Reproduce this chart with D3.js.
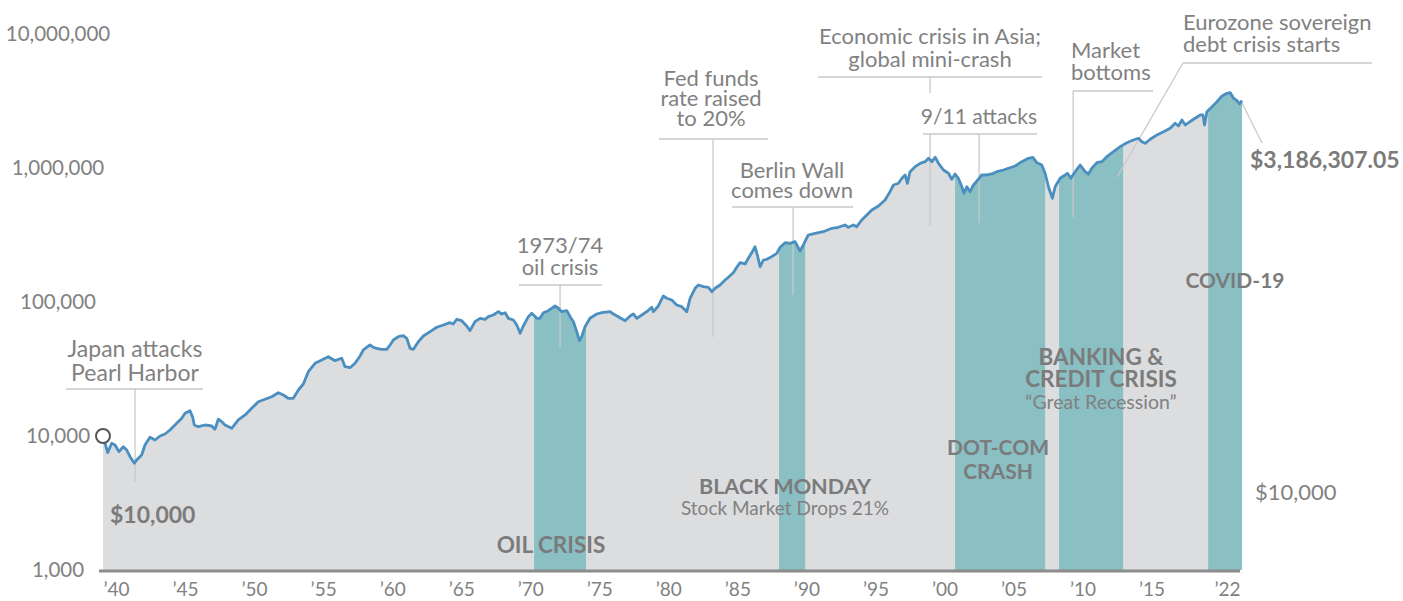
<!DOCTYPE html>
<html>
<head>
<meta charset="utf-8">
<script src="https://cdn.jsdelivr.net/npm/d3@7"></script>
<style>
  body { margin: 0; background: #fff; }
  svg { display: block; }
  text { font-family: Lato, "Noto Sans", sans-serif; }
</style>
</head>
<body>
<svg id="chart" width="1403" height="601"></svg>
<script>
// growth of $10,000 (decimal year, dollars)
const years = [
  1940.42, 1940.76, 1941.05, 1941.29, 1941.58, 1941.89, 1942.14, 1942.38, 1942.69, 1942.86,
  1943.22, 1943.46, 1943.82, 1944.19, 1944.55, 1944.91, 1945.27, 1945.63, 1946.12, 1946.36,
  1946.72, 1946.92, 1947.03, 1947.32, 1947.81, 1948.29, 1948.53, 1948.77, 1949.02, 1949.26,
  1949.74, 1950.22, 1950.71, 1951.19, 1951.67, 1952.15, 1952.64, 1953.12, 1953.48, 1953.84,
  1954.20, 1954.57, 1954.93, 1955.29, 1955.78, 1956.26, 1956.74, 1957.22, 1957.71, 1957.95,
  1958.31, 1958.67, 1959.04, 1959.27, 1959.76, 1960.00, 1960.24, 1960.61, 1960.97, 1961.21,
  1961.45, 1961.81, 1962.17, 1962.42, 1962.66, 1962.90, 1963.26, 1963.62, 1964.11, 1964.59,
  1965.07, 1965.55, 1965.79, 1966.04, 1966.40, 1966.76, 1967.00, 1967.36, 1967.73, 1968.09,
  1968.33, 1968.69, 1969.05, 1969.30, 1969.54, 1969.78, 1970.14, 1970.39, 1970.63, 1970.86,
  1971.23, 1971.47, 1971.84, 1972.07, 1972.31, 1972.67, 1973.16, 1973.40, 1973.64, 1974.01,
  1974.25, 1974.49, 1974.73, 1974.92, 1975.09, 1975.33, 1975.69, 1976.18, 1976.54, 1977.14,
  1977.38, 1977.74, 1978.23, 1978.59, 1978.83, 1979.08, 1979.44, 1979.80, 1980.16, 1980.28,
  1980.64, 1981.00, 1981.25, 1981.61, 1981.97, 1982.34, 1982.70, 1982.94, 1983.30, 1983.54,
  1983.90, 1984.26, 1984.51, 1984.75, 1985.11, 1985.47, 1985.71, 1986.07, 1986.32, 1986.56,
  1986.92, 1987.16, 1987.52, 1987.64, 1987.81, 1988.01, 1988.25, 1988.49, 1988.85, 1989.22,
  1989.46, 1989.82, 1990.18, 1990.54, 1990.90, 1991.14,
  1991.50, 1991.99, 1992.59, 1993.20, 1993.68, 1994.16, 1994.40, 1994.77, 1995.01, 1995.37,
  1995.74, 1996.10, 1996.58, 1997.06, 1997.42, 1997.67, 1998.03, 1998.28, 1998.51, 1998.68,
  1998.87, 1999.24, 1999.60, 1999.96, 2000.20, 2000.45, 2000.69, 2000.93, 2001.29, 2001.65,
  2001.89, 2002.13, 2002.37, 2002.62, 2002.78, 2002.98, 2003.22, 2003.46, 2003.82, 2004.06,
  2004.43, 2004.79, 2005.15, 2005.63, 2005.99, 2006.48, 2006.96, 2007.44, 2007.76, 2008.05,
  2008.41, 2008.65, 2008.89, 2009.18, 2009.38, 2009.74, 2010.10, 2010.27, 2010.51, 2010.83,
  2011.19, 2011.55, 2011.79, 2012.03, 2012.40, 2012.76, 2013.12, 2013.60, 2014.09, 2014.57,
  2015.05, 2015.41, 2015.66, 2015.90, 2016.26, 2016.75, 2017.23, 2017.71, 2018.07, 2018.31,
  2018.56, 2018.80, 2019.04, 2019.40, 2019.89, 2020.08, 2020.20, 2020.37, 2020.74, 2021.10,
  2021.46, 2021.82, 2022.06, 2022.30, 2022.55, 2022.73, 2022.91
];
const values = [
  10000, 7510, 8820, 8570, 7640, 8320, 7860, 7010, 6260, 6620,
  7210, 8570, 9780, 9340, 10000, 10350, 11090, 12080, 13560, 14770,
  15450, 13790, 12080, 11730, 12080, 11880, 11220, 13330, 12790, 12080,
  11420, 13170, 14350, 16100, 18030, 18790, 19650, 21050, 20230, 19120,
  19120, 22040, 24440, 30190, 34880, 36920, 39070, 36480, 38010, 32900,
  32350, 34880, 39550, 43840, 47780, 45920, 45130, 44370, 44370, 47780,
  52050, 55100, 56060, 53610, 45130, 44370, 50570, 55770, 60040, 64770,
  67370, 70080, 68540, 74300, 72530, 66220, 61090, 71290, 75570, 74300,
  77700, 80000, 84680, 81380, 83220, 75570, 73410, 67370, 58410, 66220,
  77700, 82360, 75570, 75570, 83220, 86130, 93370, 89780, 84680, 86130,
  77700, 71290, 60040, 51450, 55100, 65420, 75570, 81380, 83220, 84680,
  81380, 77700, 72530, 78630, 81380, 75570, 80000, 84680, 91320, 84680,
  93370, 110900, 106600, 103500, 95000, 92260, 84680, 106600, 126600, 134000,
  130100, 128800, 119400, 126600, 134000, 146000, 152900, 165500, 181600, 196600,
  192200, 212000, 244400, 258700, 224200, 183400, 205800, 208300, 217800, 230900,
  256000, 277100, 274200, 281900, 240300, 266400,
  316300, 325700, 334700, 354900, 361100, 375600, 361100, 375600, 364800, 409300,
  446100, 486100, 520600, 577000, 666000, 746900, 769100, 838100, 887000, 769100,
  938900, 1023000, 1084000, 1115000, 1182000, 1115000, 1202000, 1084000, 966500, 913300,
  823800, 902300, 838100, 725400, 647600, 725400, 666000, 746900, 823800, 887000,
  887000, 902300, 938900, 966500, 995200, 1035000, 1115000, 1182000, 1202000, 1096000,
  1053000, 913300, 725400, 594200, 725400, 838100, 887000, 913300, 838100, 938900,
  1053000, 938900, 902300, 995200, 1096000, 1115000, 1215000, 1324000, 1443000, 1545000,
  1619000, 1667000, 1572000, 1529000, 1638000, 1764000, 1866000, 1978000, 2157000, 2059000,
  2283000, 2095000, 2179000, 2310000, 2488000, 2488000, 2095000, 2633000, 2869000, 3126000,
  3448000, 3611000, 3648000, 3314000, 3180000, 3005000, 3186307.05
];

// shaded crisis periods
const bandStart = [1971.64, 1989.38, 2002.13, 2009.66, 2020.46];
const bandEnd   = [1975.40, 1991.27, 2008.65, 2014.30, 2022.91];

const tickYears  = [1940, 1945, 1950, 1955, 1960, 1965, 1970, 1975, 1980, 1985, 1990, 1995, 2000, 2005, 2010, 2015, 2022];
const tickLabels = ["’40", "’45", "’50", "’55", "’60", "’65", "’70", "’75", "’80", "’85", "’90", "’95", "’00", "’05", "’10", "’15", "’22"];
const yTicks = [1000, 10000, 100000, 1000000, 10000000];

const data = d3.zip(years, values).map(([t, v]) => ({t, v}));

const svg = d3.select("#chart");
const x = d3.scaleLinear().domain([1940.42, 2022.91]).range([103, 1242]);
const y = d3.scaleLog().domain([1000, 1e7]).range([570, 34]);

const TEXT = "#818181";
const BOLD = "#7b7b7b";
const RULE = "#c9c9c9";

const area = d3.area().x(d => x(d.t)).y0(y(1000)).y1(d => y(d.v));
const line = d3.line().x(d => x(d.t)).y(d => y(d.v));

svg.append("clipPath").attr("id", "under")
  .append("path").attr("d", area(data));

svg.append("path")
  .attr("d", area(data))
  .attr("fill", "#dcdddf");

svg.append("g").attr("clip-path", "url(#under)")
  .selectAll("rect")
  .data(d3.zip(bandStart, bandEnd))
  .join("rect")
  .attr("x", d => x(d[0]))
  .attr("width", d => x(d[1]) - x(d[0]))
  .attr("y", 0)
  .attr("height", y(1000))
  .attr("fill", "#8abfc4");

// leader lines and rules
function rule(x1, y1, x2, y2) {
  svg.append("line")
    .attr("x1", x1).attr("y1", y1).attr("x2", x2).attr("y2", y2)
    .attr("stroke", RULE).attr("stroke-width", 1.3);
}
rule(66, 389, 203, 389);  rule(x(1942.74), 389, x(1942.74), 482);
rule(519, 285, 602, 285); rule(x(1973.52), 285, x(1973.52), 347);
rule(659, 139, 768, 139); rule(x(1984.60), 139, x(1984.60), 337);
rule(732, 207, 853, 207); rule(x(1990.40), 207, x(1990.40), 295);
rule(818, 77, 1042, 77);  rule(x(2000.32), 77, x(2000.32), 93);
rule(x(2000.32), 134, x(2000.32), 226);
rule(923, 134, 1037, 134); rule(x(2003.87), 134, x(2003.87), 223);
rule(1073, 91, 1153, 91); rule(x(2010.68), 91, x(2010.68), 217);
rule(1183, 63, 1372, 63); rule(1183, 63, x(2013.87), 177);
rule(x(2022.91), 103, 1262, 143);

svg.append("path")
  .attr("d", line(data))
  .attr("fill", "none")
  .attr("stroke", "#4a8fc0")
  .attr("stroke-width", 2.8)
  .attr("stroke-linejoin", "round");

// bottom axis
svg.append("line")
  .attr("x1", 99).attr("x2", 1240)
  .attr("y1", y(1000) + 1).attr("y2", y(1000) + 1)
  .attr("stroke", "#8c8c8c").attr("stroke-width", 3);

svg.append("g").selectAll("text")
  .data(yTicks)
  .join("text")
  .attr("x", 58)
  .attr("y", d => y(d))
  .attr("dy", "0.35em")
  .attr("text-anchor", "middle")
  .attr("fill", TEXT)
  .attr("font-size", 20.5)
  .text(d => d3.format(",")(d));

svg.append("g").selectAll("text")
  .data(tickYears)
  .join("text")
  .attr("x", d => d === 2022 ? x(d) - 2 : x(d + 1.4))
  .attr("y", 589)
  .attr("dy", "0.35em")
  .attr("text-anchor", "middle")
  .attr("fill", TEXT)
  .attr("font-size", 19)
  .text((d, i) => tickLabels[i]);

// start marker
svg.append("circle")
  .attr("cx", x(1940.42)).attr("cy", y(10000)).attr("r", 7)
  .attr("fill", "#fff").attr("stroke", "#555").attr("stroke-width", 2);

// annotation text
function label(lines, cx, cy, opts = {}) {
  const lh = opts.lh || 23;
  const t = svg.append("text")
    .attr("text-anchor", opts.anchor || "middle")
    .attr("fill", opts.color || TEXT)
    .attr("font-size", opts.size || 22)
    .attr("font-weight", opts.weight || 400);
  lines.forEach((s, i) => {
    t.append("tspan").attr("x", cx).attr("y", cy + i * lh).attr("dy", "0.35em").text(s);
  });
  return t;
}

label(["Japan attacks", "Pearl Harbor"], 135, 349, {lh: 24, size: 23});
label(["1973/74", "oil crisis"], 560, 245, {lh: 22});
label(["Fed funds", "rate raised", "to 20%"], 711, 78, {lh: 20});
label(["Berlin Wall", "comes down"], 792, 170, {lh: 20});
label(["Economic crisis in Asia;", "global mini-crash"], 930, 36, {lh: 23});
label(["9/11 attacks"], 979, 117, {size: 21});
label(["Market", "bottoms"], 1071, 50, {anchor: "start", lh: 22});
label(["Eurozone sovereign", "debt crisis starts"], 1183, 22, {anchor: "start", lh: 22});

label(["$3,186,307.05"], 1250, 160, {anchor: "start", size: 23, weight: 700, color: BOLD});
label(["$10,000"], 110, 515, {anchor: "start", size: 23, weight: 700, color: BOLD});
label(["$10,000"], 1255, 492, {anchor: "start", size: 22});

label(["OIL CRISIS"], 551, 545, {size: 22.5, weight: 700, color: BOLD});
label(["BLACK MONDAY"], 785, 486, {size: 21.6, weight: 700, color: BOLD});
label(["Stock Market Drops 21%"], 785, 508, {size: 19});
label(["DOT-COM", "CRASH"], 998, 448, {size: 21, weight: 700, color: BOLD, lh: 24});
label(["BANKING &", "CREDIT CRISIS"], 1101, 357, {size: 22.5, weight: 700, color: BOLD, lh: 22});
label(["“Great Recession”"], 1101, 402, {size: 19.5});
label(["COVID-19"], 1235, 281, {size: 21, weight: 700, color: BOLD});
</script>
</body>
</html>
